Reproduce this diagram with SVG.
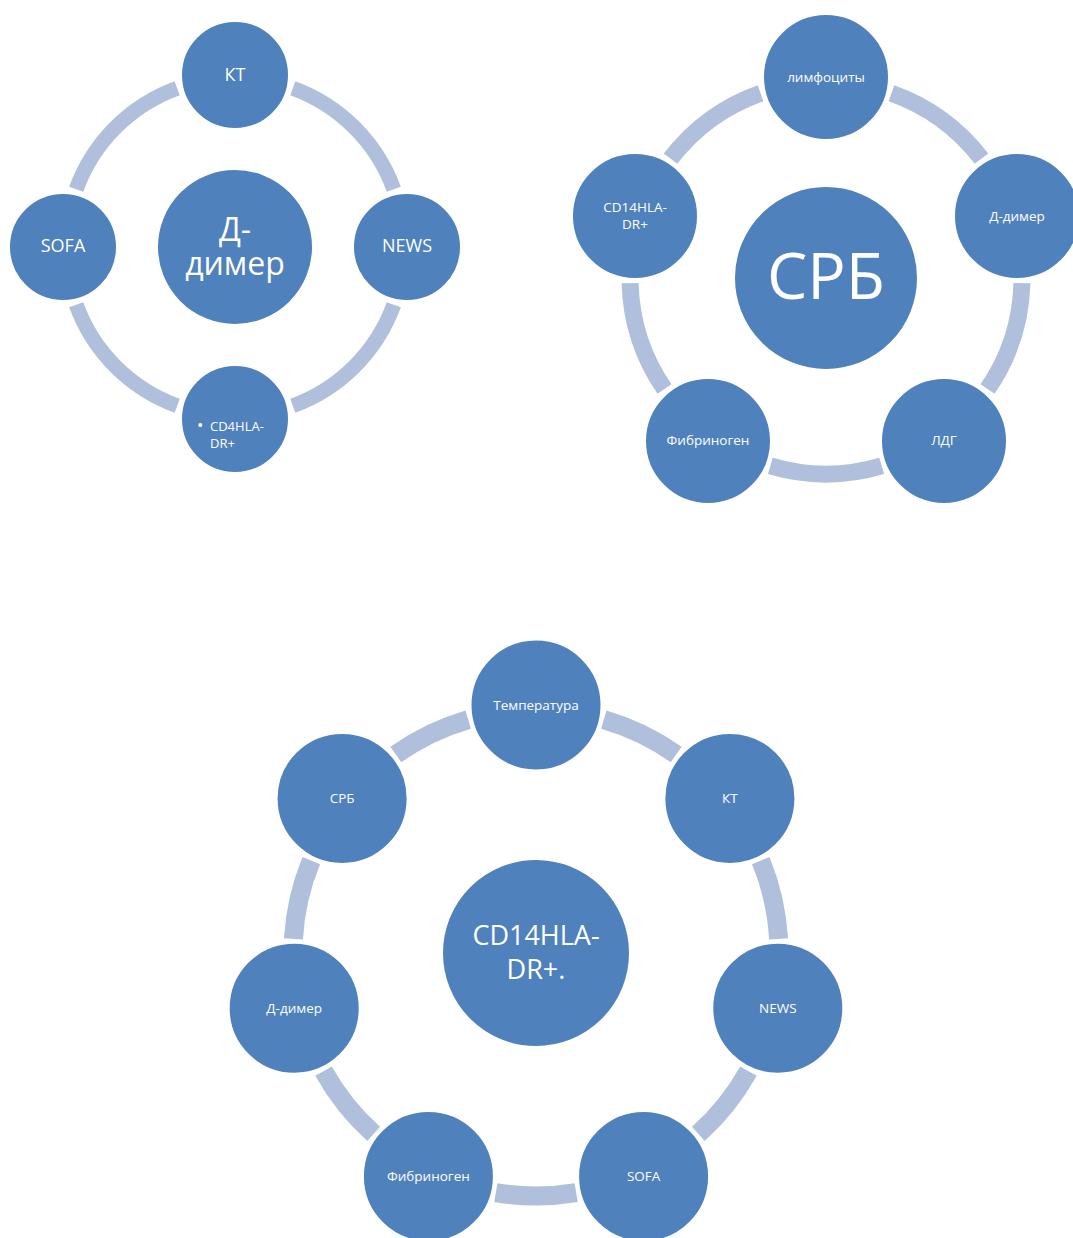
<svg xmlns="http://www.w3.org/2000/svg" width="1073" height="1238" viewBox="0 0 1073 1238">
  <style>
    .arc { fill: none; stroke: #B0C0DC; stroke-linecap: butt; }
    .d1 .arc { stroke-width: 15; }
    .d2 .arc { stroke-width: 17; }
    .d3 .arc { stroke-width: 19; }
    .node circle { fill: #4F81BD; stroke: #FFFFFF; stroke-width: 2; }
    text { font-family: "Open Sans", "Liberation Sans", sans-serif; fill: #FFFFFF; text-anchor: middle; }
    .s18 { font-size: 18px; }
    .s13 { font-size: 13px; }
    .s135 { font-size: 13.5px; }
    .big32 { font-size: 32px; }
    .big27 { font-size: 27px; }
    .big64 { font-size: 64px; }
  </style>
  <rect width="1073" height="1238" fill="#FFFFFF"/>

  <!-- Cycle 1: Д-димер -->
  <g class="d1">
    <g id="connectors-1">
      <path class="arc" d="M292.8 88.2 A169 169 0 0 1 393.8 189.2"/>
      <path class="arc" d="M393.8 304.8 A169 169 0 0 1 292.8 405.8"/>
      <path class="arc" d="M177.2 405.8 A169 169 0 0 1 76.2 304.8"/>
      <path class="arc" d="M76.2 189.2 A169 169 0 0 1 177.2 88.2"/>
    </g>
    <g id="d1-center" class="node">
      <circle cx="235" cy="247" r="78"/>
      <text class="big32"><tspan x="235" y="241">Д-</tspan><tspan x="235" y="275">димер</tspan></text>
    </g>
    <g id="d1-kt" class="node">
      <circle cx="235" cy="75" r="54"/>
      <text class="s18" x="235" y="81">КТ</text>
    </g>
    <g id="d1-news" class="node">
      <circle cx="407" cy="247" r="54"/>
      <text class="s18" x="407" y="252">NEWS</text>
    </g>
    <g id="d1-cd4" class="node">
      <circle cx="235" cy="419" r="54"/>
      <text class="s13" style="text-anchor:start"><tspan x="197" y="431" style="font-size:17px">•</tspan><tspan x="210" y="431">CD4HLA-</tspan><tspan x="210" y="448">DR+</tspan></text>
    </g>
    <g id="d1-sofa" class="node">
      <circle cx="63" cy="247" r="54"/>
      <text class="s18" x="63" y="252">SOFA</text>
    </g>
  </g>

  <!-- Cycle 2: СРБ -->
  <g class="d2">
    <g id="connectors-2">
      <path class="arc" d="M891.43 93.24 A196 196 0 0 1 981.5 158.68"/>
      <path class="arc" d="M1021.93 283.13 A196 196 0 0 1 987.53 389.02"/>
      <path class="arc" d="M881.67 465.93 A196 196 0 0 1 770.33 465.93"/>
      <path class="arc" d="M664.47 389.02 A196 196 0 0 1 630.07 283.13"/>
      <path class="arc" d="M670.5 158.68 A196 196 0 0 1 760.57 93.24"/>
    </g>
    <g id="d2-center" class="node">
      <circle cx="826" cy="278" r="92"/>
      <text class="big64" x="826" y="299">СРБ</text>
    </g>
    <g id="d2-lymph" class="node">
      <circle cx="826" cy="77" r="63"/>
      <text class="s135" x="826" y="82">лимфоциты</text>
    </g>
    <g id="d2-ddimer" class="node">
      <circle cx="1017" cy="216" r="63"/>
      <text class="s135" x="1017" y="221">Д-димер</text>
    </g>
    <g id="d2-ldg" class="node">
      <circle cx="944" cy="441" r="63"/>
      <text class="s135" x="944" y="445">ЛДГ</text>
    </g>
    <g id="d2-fibr" class="node">
      <circle cx="708" cy="441" r="63"/>
      <text class="s135" x="708" y="445">Фибриноген</text>
    </g>
    <g id="d2-cd14" class="node">
      <circle cx="635" cy="216" r="63"/>
      <text class="s135"><tspan x="635" y="212">CD14HLA-</tspan><tspan x="635" y="229">DR+</tspan></text>
    </g>
  </g>

  <!-- Cycle 3: CD14HLA-DR+. -->
  <g class="d3">
    <g id="connectors-3">
      <path class="arc" d="M603.79 719.65 A243 243 0 0 1 676.17 754.5"/>
      <path class="arc" d="M760.71 860.51 A243 243 0 0 1 778.59 938.83"/>
      <path class="arc" d="M748.42 1071.02 A243 243 0 0 1 698.33 1133.83"/>
      <path class="arc" d="M576.17 1192.67 A243 243 0 0 1 495.83 1192.67"/>
      <path class="arc" d="M373.67 1133.83 A243 243 0 0 1 323.58 1071.02"/>
      <path class="arc" d="M293.41 938.83 A243 243 0 0 1 311.29 860.51"/>
      <path class="arc" d="M395.83 754.5 A243 243 0 0 1 468.21 719.65"/>
    </g>
    <g id="d3-center" class="node">
      <circle cx="536" cy="953" r="94"/>
      <text class="big27"><tspan x="536" y="945">CD14HLA-</tspan><tspan x="536" y="979">DR+.</tspan></text>
    </g>
    <g id="d3-temp" class="node">
      <circle cx="536" cy="705" r="65.5"/>
      <text class="s135" x="536" y="710">Температура</text>
    </g>
    <g id="d3-kt" class="node">
      <circle cx="729.9" cy="798.4" r="65.5"/>
      <text class="s135" x="729.9" y="803">КТ</text>
    </g>
    <g id="d3-news" class="node">
      <circle cx="777.8" cy="1008.2" r="65.5"/>
      <text class="s135" x="777.8" y="1013">NEWS</text>
    </g>
    <g id="d3-sofa" class="node">
      <circle cx="643.6" cy="1176.4" r="65.5"/>
      <text class="s135" x="643.6" y="1181">SOFA</text>
    </g>
    <g id="d3-fibr" class="node">
      <circle cx="428.4" cy="1176.4" r="65.5"/>
      <text class="s135" x="428.4" y="1181">Фибриноген</text>
    </g>
    <g id="d3-ddimer" class="node">
      <circle cx="294.2" cy="1008.2" r="65.5"/>
      <text class="s135" x="294.2" y="1013">Д-димер</text>
    </g>
    <g id="d3-crp" class="node">
      <circle cx="342.1" cy="798.4" r="65.5"/>
      <text class="s135" x="342.1" y="803">СРБ</text>
    </g>
  </g>
</svg>
